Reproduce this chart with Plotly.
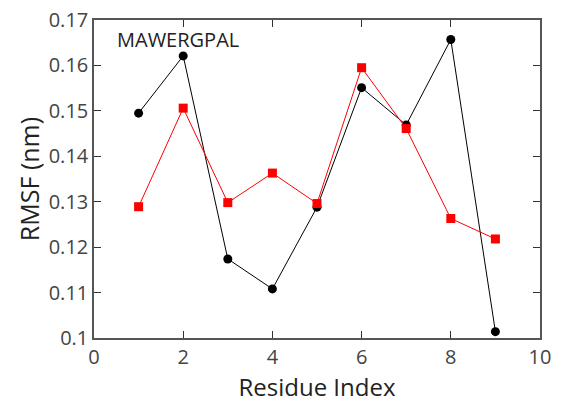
import plotly.graph_objects as go

residues = [1, 2, 3, 4, 5, 6, 7, 8, 9]
rmsf_black = [0.1495, 0.1621, 0.1174, 0.1108, 0.1288, 0.1551, 0.1469, 0.1657, 0.1014]
rmsf_red = [0.1289, 0.1506, 0.1298, 0.1363, 0.1296, 0.1595, 0.1461, 0.1263, 0.1218]
x_ticks = [0, 2, 4, 6, 8, 10]
y_ticks = [0.1, 0.11, 0.12, 0.13, 0.14, 0.15, 0.16, 0.17]
label = "MAWERGPAL"

fig = go.Figure()
fig.add_trace(go.Scatter(x=residues, y=rmsf_black, mode="lines+markers",
                         line=dict(color="black", width=1),
                         marker=dict(symbol="circle", size=9, color="black")))
fig.add_trace(go.Scatter(x=residues, y=rmsf_red, mode="lines+markers",
                         line=dict(color="red", width=1),
                         marker=dict(symbol="square", size=9, color="red")))

font = "Open Sans"
axis_common = dict(showgrid=False, zeroline=False, showline=True, linecolor="#555",
                   linewidth=1.5, mirror="allticks", ticks="inside", ticklen=7,
                   tickcolor="#333", tickwidth=1.2, automargin=False,
                   tickfont=dict(family=font, size=20, color="#444"))
fig.update_xaxes(range=[0, 10], tickvals=x_ticks, ticktext=[str(v) for v in x_ticks],
                 title=dict(text="Residue Index", font=dict(family=font, size=24, color="#222"), standoff=4),
                 **axis_common)
fig.update_yaxes(range=[0.1, 0.17], tickvals=y_ticks, ticktext=[f"{v:g}" for v in y_ticks],
                 title=dict(text="RMSF (nm)", font=dict(family=font, size=25, color="#222"), standoff=2),
                 **axis_common)
fig.add_annotation(x=0.047, y=0.94, xref="paper", yref="paper", text=label, showarrow=False,
                   xanchor="left", yanchor="middle", font=dict(family=font, size=20, color="#222"))
fig.update_layout(width=563, height=406, margin=dict(l=94, r=23, t=20, b=68, autoexpand=False),
                  plot_bgcolor="white", paper_bgcolor="white", showlegend=False)
fig.write_html("out.html")
